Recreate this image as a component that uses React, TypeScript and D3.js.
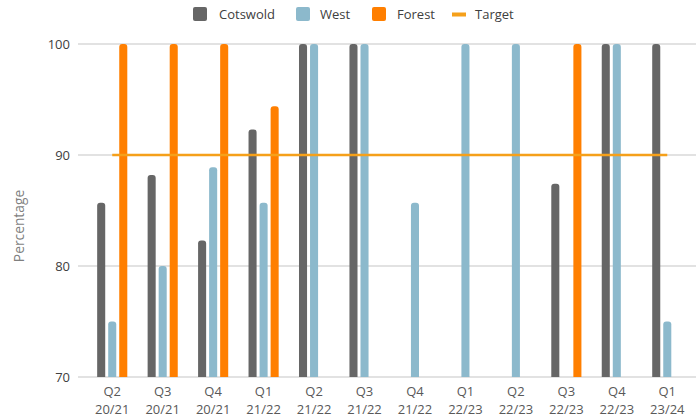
import React from "react";
import * as d3 from "d3";

const categories = [
  ["Q2", "20/21"], ["Q3", "20/21"], ["Q4", "20/21"], ["Q1", "21/22"],
  ["Q2", "21/22"], ["Q3", "21/22"], ["Q4", "21/22"], ["Q1", "22/23"],
  ["Q2", "22/23"], ["Q3", "22/23"], ["Q4", "22/23"], ["Q1", "23/24"],
];
const seriesNames = ["Cotswold", "West", "Forest"];
const cotswold = [85.7, 88.2, 82.3, 92.3, 100, 100, null, null, null, 87.4, 100, 100];
const west = [75, 80, 88.9, 85.7, 100, 100, 85.7, 100, 100, null, 100, 75];
const forest = [100, 100, 100, 94.4, null, null, null, null, null, 100, null, null];
const target = 90;
const yTicks = [70, 80, 90, 100];

const W = 696;
const H = 419;
const colors: Record<string, string> = {
  Cotswold: "#666666",
  West: "#8cb9cc",
  Forest: "#ff7f00",
  Target: "#f5a01a",
};
const FONT = "'Open Sans', sans-serif";

function topRoundedBar(x: number, y: number, w: number, h: number, r: number) {
  const rr = Math.min(r, w / 2, h);
  return `M${x},${y + h}V${y + rr}Q${x},${y} ${x + rr},${y}H${x + w - rr}Q${x + w},${y} ${x + w},${y + rr}V${y + h}Z`;
}

export default function App() {
  const keys = categories.map((c) => c.join(" "));
  const x = d3.scaleBand<string>().domain(keys).range([87, 692.5]);
  const y = d3.scaleLinear().domain([70, 100]).range([377, 44]);
  const inner = d3
    .scaleBand<string>()
    .domain(seriesNames)
    .range([-16.5, 16.5])
    .paddingInner(0.27)
    .paddingOuter(0.13);
  const data: Record<string, (number | null)[]> = { Cotswold: cotswold, West: west, Forest: forest };

  const firstC = x(keys[0])! + x.bandwidth() / 2;
  const lastC = x(keys[keys.length - 1])! + x.bandwidth() / 2;

  const legend = [
    { name: "Cotswold", x: 193, tx: 219 },
    { name: "West", x: 296, tx: 320 },
    { name: "Forest", x: 372, tx: 397 },
    { name: "Target", x: 452, tx: 475 },
  ];

  return (
    <svg width={W} height={H} style={{ position: "absolute", left: 0, top: 0, background: "#fff" }} fontFamily={FONT}>
      {/* gridlines and y ticks */}
      {yTicks.map((t) => (
        <g key={t}>
          <line x1={78} x2={696} y1={y(t)} y2={y(t)} stroke="#d9d9d9" strokeWidth={1.3} />
          <text x={70} y={y(t) + 4.5} textAnchor="end" fontSize={13} fill="#404040">
            {t}
          </text>
        </g>
      ))}
      <text
        transform={`translate(23.5,226) rotate(-90)`}
        textAnchor="middle"
        fontSize={13.8}
        fill="#7f7f7f"
      >
        Percentage
      </text>

      {/* bars */}
      {seriesNames.map((s) =>
        data[s].map((v, i) =>
          v == null ? null : (
            <path
              key={s + i}
              d={topRoundedBar(
                x(keys[i])! + x.bandwidth() / 2 + inner(s)!,
                y(v),
                inner.bandwidth(),
                y(70) - y(v),
                3
              )}
              fill={colors[s]}
            />
          )
        )
      )}

      {/* target line */}
      <line x1={firstC} x2={lastC} y1={y(target)} y2={y(target)} stroke={colors.Target} strokeWidth={2.5} />

      {/* x labels */}
      {categories.map((c, i) => {
        const cx = x(keys[i])! + x.bandwidth() / 2;
        return (
          <text key={i} x={cx} textAnchor="middle" fontSize={13} fill="#595959">
            <tspan x={cx} y={396}>{c[0]}</tspan>
            <tspan x={cx} y={414}>{c[1]}</tspan>
          </text>
        );
      })}

      {/* legend */}
      {legend.map((l) => (
        <g key={l.name}>
          {l.name === "Target" ? (
            <rect x={l.x} y={12.5} width={14} height={4} fill={colors.Target} />
          ) : (
            <rect x={l.x} y={7} width={14} height={14} rx={2} fill={colors[l.name]} />
          )}
          <text x={l.tx} y={19} fontSize={13} fill="#404040">
            {l.name}
          </text>
        </g>
      ))}
    </svg>
  );
}
